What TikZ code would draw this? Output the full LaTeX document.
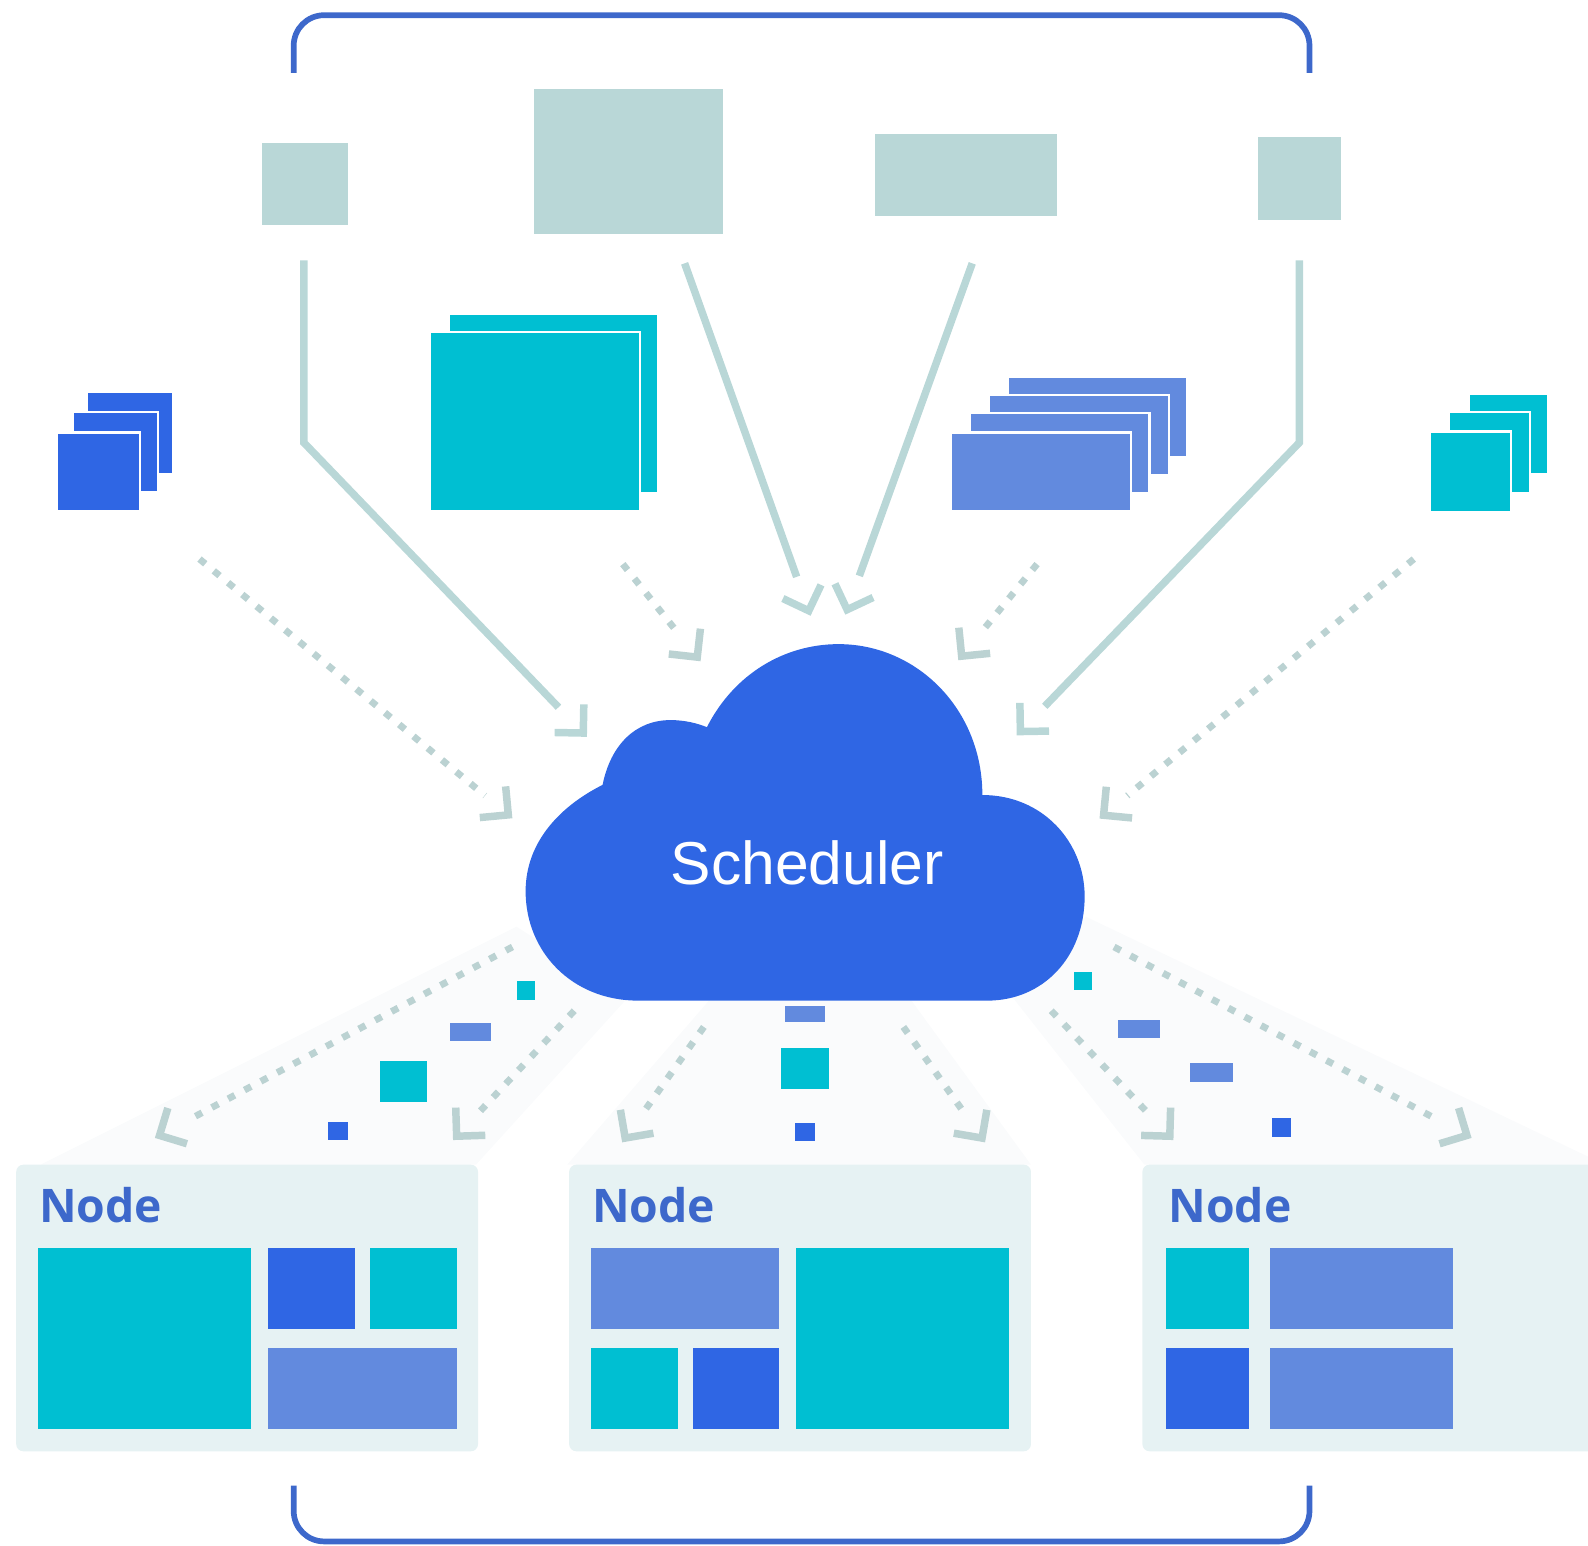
\documentclass[tikz,border=0pt]{standalone}
\usepackage{fontspec}
\setmainfont{Liberation Sans}
\newfontfamily\labelfont{Open Sans}
\usetikzlibrary{decorations.markings}
\definecolor{podteal}{HTML}{00BFD2}
\definecolor{podblue}{HTML}{2F66E4}
\definecolor{podperi}{HTML}{628ADE}
\definecolor{linegray}{HTML}{B9D7D7}
\definecolor{dotgray}{HTML}{BBD2D2}
\definecolor{nodebg}{HTML}{E6F2F3}
\definecolor{fanbg}{HTML}{FAFBFC}
\definecolor{framecol}{HTML}{3D68CB}
\begin{document}
\begin{tikzpicture}[x=.01cm,y=-.01cm,
    chevron/.style={postaction={decorate,decoration={markings,mark=at position 1 with {\draw[solid,shorten >=0pt,draw=#1,line width=2.1pt] (-24,-20)--(-4,0)--(-24,20);}}}},
    solidarrow/.style={draw=linegray,line width=2.1pt,shorten >=11.3pt,chevron=linegray},
    dotarrow/.style={draw=dotgray,line width=1.9pt,dash pattern=on 2.1pt off 3.1pt,shorten >=10pt,chevron=dotgray},
    frame/.style={draw=framecol,line width=1.6pt,rounded corners=.3cm},
    stack/.style={draw=white,line width=.6pt},
    nodelabel/.style={text=framecol,font=\labelfont\bfseries\fontsize{13}{16}\selectfont,anchor=west,inner sep=0pt}]
    \useasboundingbox (0,0) rectangle (1568,1526);
    % brackets
    \draw[frame] (290,72)--(290,15)--(1293,15)--(1293,72);
    \draw[frame] (290,1467)--(290,1522)--(1293,1522)--(1293,1467);
    % top boxes
    \fill[linegray] (259,141) rectangle (344,222);
    \fill[linegray] (527,88) rectangle (714,231);
    \fill[linegray] (864,132) rectangle (1044,213);
    \fill[linegray] (1242,135) rectangle (1324,217);
    % pod stacks
    \filldraw[podblue,stack] (86,387) rectangle (171,468);
    \filldraw[podblue,stack] (72,407) rectangle (156,486);
    \filldraw[podblue,stack] (56,427) rectangle (138,505);
    \filldraw[podteal,stack] (443,310) rectangle (650,487);
    \filldraw[podteal,stack] (425,328) rectangle (632,505);
    \filldraw[podperi,stack] (995,372) rectangle (1172,451);
    \filldraw[podperi,stack] (976,390) rectangle (1154,469);
    \filldraw[podperi,stack] (958,408) rectangle (1135,487);
    \filldraw[podperi,stack] (939,427) rectangle (1117,505);
    \filldraw[podteal,stack] (1450,389) rectangle (1529,468);
    \filldraw[podteal,stack] (1431,407) rectangle (1511,487);
    \filldraw[podteal,stack] (1412,426) rectangle (1492,506);
    % fans below the cloud
    \fill[fanbg] (510,915)--(40,1150)--(470,1150)--(620,985)--cycle;
    \fill[fanbg] (700,988)--(560,1150)--(1018,1150)--(900,988)--cycle;
    \fill[fanbg] (1072,905)--(1568,1142)--(1568,1150)--(1130,1150)--(1000,985)--cycle;
    % arrow ends
    \coordinate (boxa) at (300,257);
    \coordinate (benda) at (300,437);
    \coordinate (enda) at (579,727);
    \coordinate (boxb) at (676,260);
    \coordinate (endb) at (800,607);
    \coordinate (boxc) at (960,260);
    \coordinate (endc) at (835,606);
    \coordinate (boxd) at (1283,257);
    \coordinate (bendd) at (1283,437);
    \coordinate (endd) at (1004,726);
    \coordinate (poda) at (197,552);
    \coordinate (inpoda) at (506,808);
    \coordinate (podb) at (615,557);
    \coordinate (inpodb) at (691,652);
    \coordinate (podc) at (1024,557);
    \coordinate (inpodc) at (947,651);
    \coordinate (podd) at (1396,552);
    \coordinate (inpodd) at (1086,808);
    \coordinate (outa) at (506,935);
    \coordinate (nodea) at (154,1123);
    \coordinate (outb) at (567,998);
    \coordinate (nodeb) at (448,1125);
    \coordinate (outc) at (695,1014);
    \coordinate (nodec) at (615,1127);
    \coordinate (outd) at (892,1014);
    \coordinate (noded) at (972,1127);
    \coordinate (oute) at (1038,998);
    \coordinate (nodee) at (1158,1125);
    \coordinate (outf) at (1100,935);
    \coordinate (nodef) at (1452,1123);
    \draw[solidarrow] (boxa)--(benda)--(enda);
    \draw[solidarrow] (boxb)--(endb);
    \draw[solidarrow] (boxc)--(endc);
    \draw[solidarrow] (boxd)--(bendd)--(endd);
    \draw[dotarrow] (poda)--(inpoda);
    \draw[dotarrow] (podb)--(inpodb);
    \draw[dotarrow] (podc)--(inpodc);
    \draw[dotarrow] (podd)--(inpodd);
    \draw[dotarrow] (outa)--(nodea);
    \draw[dotarrow] (outb)--(nodeb);
    \draw[dotarrow] (outc)--(nodec);
    \draw[dotarrow] (outd)--(noded);
    \draw[dotarrow] (oute)--(nodee);
    \draw[dotarrow] (outf)--(nodef);
    % cloud
    \fill[podblue] (630,988) .. controls (565,988) and (519,940) .. (519,880)
        .. controls (519,830) and (555,795) .. (595,775)
        .. controls (603,735) and (628,711) .. (662,711)
        .. controls (676,711) and (688,714) .. (698,718)
        .. controls (725,665) and (775,636) .. (828,636)
        .. controls (905,636) and (970,700) .. (970,785)
        .. controls (1030,785) and (1071,832) .. (1071,885)
        .. controls (1071,945) and (1030,988) .. (975,988)--cycle;
    \node[text=white,font=\fontsize{17}{20}\selectfont,inner sep=0pt] (scheduler) at (797,852) {Scheduler};
    % pods on their way
    \fill[podteal] (510,969) rectangle (528,987);
    \fill[podperi] (444,1010) rectangle (485,1028);
    \fill[podteal] (375,1048) rectangle (422,1088);
    \fill[podblue] (324,1108) rectangle (344,1126);
    \fill[podperi] (775,993) rectangle (815,1009);
    \fill[podteal] (771,1035) rectangle (819,1075);
    \fill[podblue] (785,1109) rectangle (805,1127);
    \fill[podteal] (1060,960) rectangle (1078,978);
    \fill[podperi] (1104,1007) rectangle (1145,1025);
    \fill[podperi] (1175,1050) rectangle (1217,1068);
    \fill[podblue] (1256,1104) rectangle (1275,1123);
    % worker boxes
    \fill[nodebg,rounded corners=2pt] (16,1150) rectangle (472,1433);
    \node[nodelabel] (nodelabela) at (38,1190) {Node};
    \fill[podteal] (38,1232) rectangle (248,1411);
    \fill[podblue] (265,1232) rectangle (351,1312);
    \fill[podteal] (365,1232) rectangle (451,1312);
    \fill[podperi] (265,1331) rectangle (451,1411);
    \fill[nodebg,rounded corners=2pt] (562,1150) rectangle (1018,1433);
    \node[nodelabel] (nodelabelb) at (584,1190) {Node};
    \fill[podperi] (584,1232) rectangle (769,1312);
    \fill[podteal] (584,1331) rectangle (669,1411);
    \fill[podblue] (684,1331) rectangle (769,1411);
    \fill[podteal] (786,1232) rectangle (996,1411);
    \fill[nodebg,rounded corners=2pt] (1128,1150) rectangle (1580,1433);
    \node[nodelabel] (nodelabelc) at (1153,1190) {Node};
    \fill[podteal] (1151,1232) rectangle (1233,1312);
    \fill[podperi] (1254,1232) rectangle (1435,1312);
    \fill[podblue] (1151,1331) rectangle (1233,1411);
    \fill[podperi] (1254,1331) rectangle (1435,1411);
\end{tikzpicture}
\end{document}
